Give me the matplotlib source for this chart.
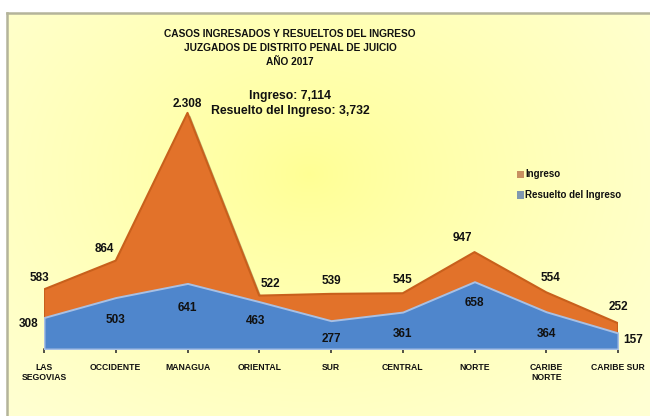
import numpy as np
import matplotlib
matplotlib.use("Agg")
import matplotlib.pyplot as plt
from matplotlib import patheffects as pe

plt.rcParams['font.family'] = ['Liberation Sans Narrow', 'Liberation Sans', 'DejaVu Sans']

# datos
regiones = ["LAS\nSEGOVIAS", "OCCIDENTE", "MANAGUA", "ORIENTAL", "SUR",
            "CENTRAL", "NORTE", "CARIBE\nNORTE", "CARIBE SUR"]
ingreso = [583, 864, 2308, 522, 539, 545, 947, 554, 252]
resuelto = [308, 503, 641, 463, 277, 361, 658, 364, 157]
etiq_ingreso = ["583", "864", "2.308", "522", "539", "545", "947", "554", "252"]
etiq_resuelto = ["308", "503", "641", "463", "277", "361", "658", "364", "157"]

# desplazamientos de etiquetas (puntos)
off_ing = [(-3, 4), (-8, 4), (0, 2), (8, 4), (0, 5), (0, 5), (-9, 6), (3, 6), (0, 7)]
off_res = [(-11, -5), (0, -16), (0, -18), (-3, -14), (0, -13), (0, -16), (0, -15), (0, -16), (11, -5)]

W, H = 650, 416
fig = plt.figure(figsize=(W / 100, H / 100), dpi=100)
fig.patch.set_facecolor("white")

# fondo con degradado
bg = fig.add_axes([7 / W, 0, 643 / W, 403 / H])
yy, xx = np.mgrid[0:1:200j, 0:1:300j]
r = np.sqrt(((xx - 0.47) / 0.7) ** 2 + ((yy - 0.6) / 0.85) ** 2)
r = np.clip(r, 0, 1) ** 0.8
c0 = np.array([1.0, 1.0, 0.58])
c1 = np.array([1.0, 1.0, 0.83])
img = c0[None, None, :] * (1 - r[..., None]) + c1[None, None, :] * r[..., None]
bg.imshow(img, aspect="auto", extent=[0, 1, 0, 1], origin="lower")
bg.set_xlim(0, 1)
bg.set_ylim(0, 1)
bg.set_xticks([])
bg.set_yticks([])
for s in ["right", "bottom"]:
    bg.spines[s].set_visible(False)
for s in ["left", "top"]:
    bg.spines[s].set_color("#b4b49a")
    bg.spines[s].set_linewidth(1.8)

# grafico
scale = 0.1023
ymax = 2500
ax = fig.add_axes([44 / W, 67 / H, 574 / W, ymax * scale / H])
ax.patch.set_alpha(0)
x = np.arange(len(regiones))

sh = [pe.SimplePatchShadow(offset=(2, -2), alpha=0.35), pe.Normal()]
ax.fill_between(x, 0, ingreso, facecolor="#e2722a", edgecolor="#c8601c",
                linewidth=1.5, zorder=2, path_effects=sh)
ax.fill_between(x, 0, resuelto, facecolor="#4f86cc", edgecolor="#a8c0e4",
                linewidth=1.4, zorder=3)

for i in x:
    ax.annotate(etiq_ingreso[i], (i, ingreso[i]), xytext=off_ing[i],
                textcoords="offset points", ha="center", va="bottom",
                fontsize=8.5, fontweight="bold", color="#111111", zorder=5)
    ax.annotate(etiq_resuelto[i], (i, resuelto[i]), xytext=off_res[i],
                textcoords="offset points", ha="center", va="center",
                fontsize=8.5, fontweight="bold", color="#111111", zorder=5)

ax.set_xlim(0, len(regiones) - 1)
ax.set_ylim(0, ymax)
ax.set_yticks([])
ax.set_xticks(x)
ax.set_xticklabels(regiones, fontsize=6.2, fontweight="bold", color="#111111",
                   linespacing=1.1)
ax.tick_params(axis="x", length=3, width=1.2, color="#333333", pad=7)
for s in ["left", "right", "top"]:
    ax.spines[s].set_visible(False)
ax.spines["bottom"].set_color("#6a5a40")
ax.spines["bottom"].set_linewidth(1.2)

# titulos
titulo = ["CASOS INGRESADOS Y RESUELTOS DEL INGRESO",
          "JUZGADOS DE DISTRITO PENAL DE JUICIO", "AÑO 2017"]
for k, t in enumerate(titulo):
    fig.text(290 / W, 1 - (34 + 14 * k) / H, t, ha="center", va="center",
             fontsize=7.3, fontweight="bold", color="#111111")
fig.text(290 / W, 1 - 96 / H, "Ingreso: 7,114", ha="center", va="center",
         fontsize=8.8, fontweight="bold", color="#111111")
fig.text(290 / W, 1 - 111 / H, "Resuelto del Ingreso: 3,732", ha="center",
         va="center", fontsize=8.8, fontweight="bold", color="#111111")

# leyenda
leg = [("Ingreso", "#c89060"), ("Resuelto del Ingreso", "#8098b0")]
for k, (txt, col) in enumerate(leg):
    yk = 1 - (174 + k * 21) / H
    fig.patches.append(plt.Rectangle((517 / W, yk - 3.5 / H), 7 / W, 7 / H,
                                     transform=fig.transFigure,
                                     facecolor=col, edgecolor="none"))
    fig.text(525 / W, yk, txt, ha="left", va="center", fontsize=7,
             fontweight="bold", color="#111111")

fig.savefig("out.png", dpi=100)
